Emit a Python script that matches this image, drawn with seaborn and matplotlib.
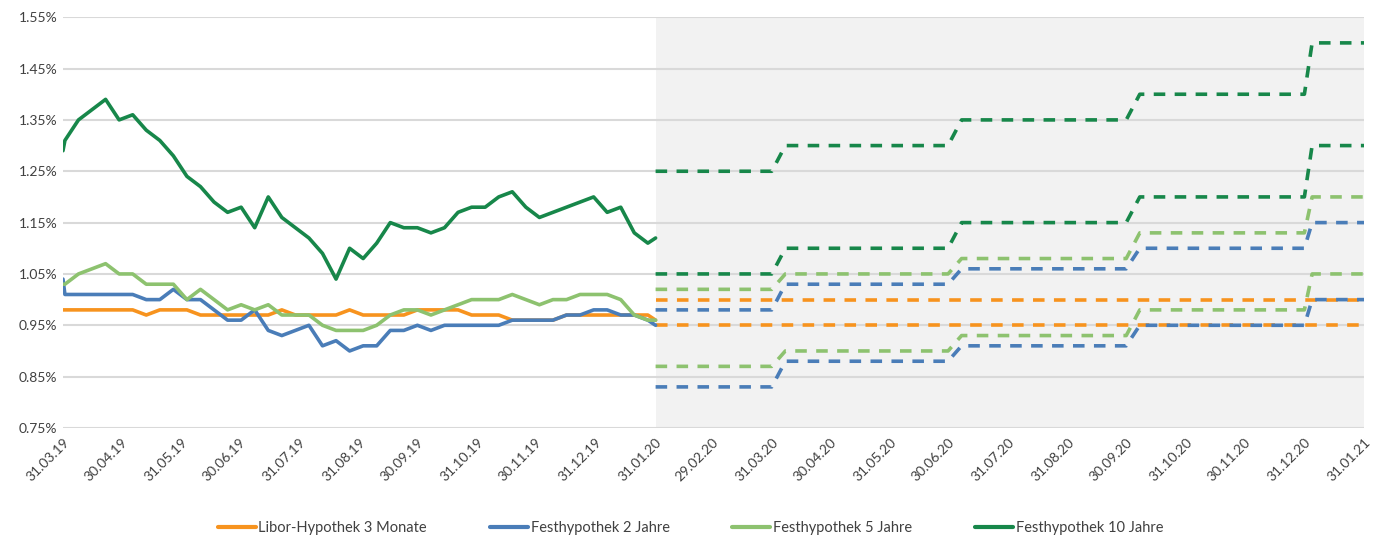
import numpy as np
import pandas as pd
import matplotlib
matplotlib.use("Agg")
import matplotlib.pyplot as plt
import matplotlib.dates as mdates
from matplotlib.lines import Line2D
from matplotlib.ticker import FuncFormatter
import seaborn as sns

# ---------------- data ----------------
series_names = ["Libor-Hypothek 3 Monate", "Festhypothek 2 Jahre",
                "Festhypothek 5 Jahre", "Festhypothek 10 Jahre"]

# historical dates: 31.03.19, weekly Mondays from 01.04.19 to 27.01.20, 31.01.20
hist_dates = (["2019-03-31"]
              + [d.strftime("%Y-%m-%d") for d in pd.date_range("2019-04-01", "2020-01-27", freq="7D")]
              + ["2020-01-31"])

libor_3m = [0.98,
            0.98, 0.98, 0.98, 0.98, 0.98, 0.98, 0.97, 0.98, 0.98, 0.98,
            0.97, 0.97, 0.97, 0.97, 0.97, 0.97, 0.98, 0.97, 0.97, 0.97,
            0.97, 0.98, 0.97, 0.97, 0.97, 0.97, 0.98, 0.98, 0.98, 0.98,
            0.97, 0.97, 0.97, 0.96, 0.96, 0.96, 0.96, 0.97, 0.97, 0.97,
            0.97, 0.97, 0.97, 0.97,
            0.96]
fest_2j = [1.04,
           1.01, 1.01, 1.01, 1.01, 1.01, 1.01, 1.00, 1.00, 1.02, 1.00,
           1.00, 0.98, 0.96, 0.96, 0.98, 0.94, 0.93, 0.94, 0.95, 0.91,
           0.92, 0.90, 0.91, 0.91, 0.94, 0.94, 0.95, 0.94, 0.95, 0.95,
           0.95, 0.95, 0.95, 0.96, 0.96, 0.96, 0.96, 0.97, 0.97, 0.98,
           0.98, 0.97, 0.97, 0.96,
           0.95]
fest_5j = [1.03,
           1.03, 1.05, 1.06, 1.07, 1.05, 1.05, 1.03, 1.03, 1.03, 1.00,
           1.02, 1.00, 0.98, 0.99, 0.98, 0.99, 0.97, 0.97, 0.97, 0.95,
           0.94, 0.94, 0.94, 0.95, 0.97, 0.98, 0.98, 0.97, 0.98, 0.99,
           1.00, 1.00, 1.00, 1.01, 1.00, 0.99, 1.00, 1.00, 1.01, 1.01,
           1.01, 1.00, 0.97, 0.96,
           0.96]
fest_10j = [1.29,
            1.31, 1.35, 1.37, 1.39, 1.35, 1.36, 1.33, 1.31, 1.28, 1.24,
            1.22, 1.19, 1.17, 1.18, 1.14, 1.20, 1.16, 1.14, 1.12, 1.09,
            1.04, 1.10, 1.08, 1.11, 1.15, 1.14, 1.14, 1.13, 1.14, 1.17,
            1.18, 1.18, 1.20, 1.21, 1.18, 1.16, 1.17, 1.18, 1.19, 1.20,
            1.17, 1.18, 1.13, 1.11,
            1.12]

# forecast: quarterly levels, step at each quarter end
fc_period_starts = ["2020-01-31", "2020-04-07", "2020-07-07", "2020-10-07", "2021-01-04"]
fc_period_ends = ["2020-03-31", "2020-06-30", "2020-09-30", "2020-12-31", "2021-01-31"]

fc_libor_high = [1.00, 1.00, 1.00, 1.00, 1.00]
fc_libor_low = [0.95, 0.95, 0.95, 0.95, 0.95]
fc_2j_high = [0.98, 1.03, 1.06, 1.10, 1.15]
fc_2j_low = [0.83, 0.88, 0.91, 0.95, 1.00]
fc_5j_high = [1.02, 1.05, 1.08, 1.13, 1.20]
fc_5j_low = [0.87, 0.90, 0.93, 0.98, 1.05]
fc_10j_high = [1.25, 1.30, 1.35, 1.40, 1.50]
fc_10j_low = [1.05, 1.10, 1.15, 1.20, 1.30]

x_ticks = [d.strftime("%Y-%m-%d") for d in pd.date_range("2019-03-31", "2021-01-31", freq="ME")]

colors = ["#F7931E", "#4A7DB8", "#8DC26F", "#17874A"]

# ---------------- build ----------------
hist = pd.DataFrame({
    "date": pd.to_datetime(hist_dates * 4),
    "value": libor_3m + fest_2j + fest_5j + fest_10j,
    "series": sum([[n] * len(hist_dates) for n in series_names], []),
})

def step_frame(levels):
    dates, vals = [], []
    for s, e, v in zip(fc_period_starts, fc_period_ends, levels):
        dates += [s, e]
        vals += [v, v]
    return pd.DataFrame({"date": pd.to_datetime(dates), "value": vals})

forecasts = [
    (0, fc_libor_high), (0, fc_libor_low),
    (1, fc_2j_high), (1, fc_2j_low),
    (2, fc_5j_high), (2, fc_5j_low),
    (3, fc_10j_high), (3, fc_10j_low),
]

# ---------------- plot ----------------
sns.set_theme(style="white")
plt.rcParams["font.family"] = ["Lato", "DejaVu Sans"]

fig = plt.figure(figsize=(13.81, 5.38), dpi=100)
ax = fig.add_axes([0.0456, 0.2045, 0.988 - 0.0456, 0.968 - 0.2045])

ax.axvspan(pd.Timestamp("2020-01-31"), pd.Timestamp("2021-01-31"),
           color="#F2F2F2", zorder=0, lw=0)

for v in np.arange(0.75, 1.5501, 0.10):
    ax.axhline(v, color="#D9D9D9", lw=1.5, zorder=1)

lw = 2.6
for idx, levels in forecasts:
    df = step_frame(levels)
    sns.lineplot(data=df, x="date", y="value", ax=ax, color=colors[idx],
                 lw=lw, dashes=False, zorder=3, legend=False)
    ax.lines[-1].set_dashes((3.2, 2.6))

sns.lineplot(data=hist, x="date", y="value", hue="series", hue_order=series_names,
             palette=colors, ax=ax, lw=lw, zorder=4, legend=False, sort=False)

ax.set_xlim(pd.Timestamp("2019-03-31"), pd.Timestamp("2021-01-31"))
ax.set_ylim(0.75, 1.55)
ax.set_yticks(np.arange(0.75, 1.5501, 0.10))
ax.yaxis.set_major_formatter(FuncFormatter(lambda v, p: f"{v:.2f}%"))
ax.set_xticks(pd.to_datetime(x_ticks))
ax.xaxis.set_major_formatter(mdates.DateFormatter("%d.%m.%y"))
for lab in ax.get_xticklabels():
    lab.set_rotation(45)
    lab.set_ha("right")
    lab.set_rotation_mode("anchor")
ax.tick_params(axis="both", length=0, labelsize=10, colors="#404040")
ax.tick_params(axis="x", pad=6)
ax.tick_params(axis="y", pad=4)
ax.set_xlabel("")
ax.set_ylabel("")
for s in ax.spines.values():
    s.set_visible(False)

handles = [Line2D([0], [0], color=c, lw=3) for c in colors]
fig.legend(handles, series_names, loc="center", bbox_to_anchor=(0.5, 0.018),
           ncol=4, frameon=False, fontsize=10.5, handlelength=2.6,
           handletextpad=0.2, columnspacing=4.3, labelcolor="#404040")

fig.savefig("out.png", dpi=100)
